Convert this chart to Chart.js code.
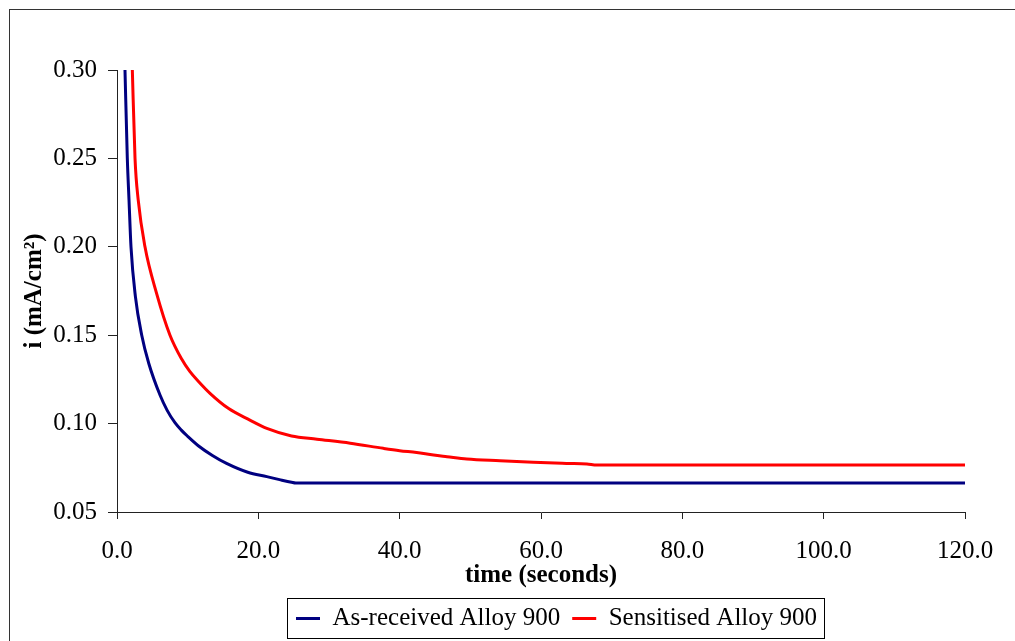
<!DOCTYPE html>
<html>
<head>
<meta charset="utf-8">
<script src="https://cdn.jsdelivr.net/npm/chart.js@4"></script>
<style>
  body { margin: 0; background: #fff; }
</style>
</head>
<body>
<canvas id="chronoAmp" width="1015" height="641"></canvas>
<script>
var asReceivedTime = [0.87, 1.13, 1.46, 1.7, 1.98, 2.6, 3.5, 4.5, 6.1, 7.1, 8.2, 9.1, 10.0, 11.5, 13.5, 15.5, 18.5, 21.2, 23.0, 24.7, 25.3, 120];
var asReceivedCurrent = [0.34, 0.30, 0.25, 0.2265, 0.20, 0.172, 0.150, 0.134, 0.116, 0.1075, 0.1005, 0.0963, 0.0928, 0.0875, 0.082, 0.0775, 0.0725, 0.0700, 0.0683, 0.0668, 0.0664, 0.0664];

var sensitisedTime = [1.95, 2.17, 2.55, 3.0, 3.96, 5.6, 7.5, 9.15, 10.3, 11.5, 13.2, 15.8, 18.8, 21.2, 24.7, 28.3, 33.0, 37.7, 40.0, 42.4, 44.8, 46.7, 49.5, 54.2, 58.9, 63.6, 66.5, 67.9, 120];
var sensitisedCurrent = [0.33, 0.30, 0.25, 0.2265, 0.20, 0.1737, 0.15, 0.1365, 0.1295, 0.124, 0.117, 0.1085, 0.102, 0.0973, 0.093, 0.0912, 0.0889, 0.086, 0.0847, 0.0836, 0.0822, 0.0813, 0.080, 0.079, 0.0781, 0.0775, 0.0772, 0.0766, 0.0766];

var seriesNames = ['As-received Alloy 900', 'Sensitised Alloy 900'];
var xTicks = [0, 20, 40, 60, 80, 100, 120];
var yTicks = [0.05, 0.10, 0.15, 0.20, 0.25, 0.30];

function pairUp(xs, ys) {
  return xs.map(function (x, k) { return { x: x, y: ys[k] }; });
}

var serif = '"Liberation Serif", "Times New Roman", serif';
var legendStart = 296;

// move the legend to where Excel put it and box it in
var legendBox = {
  id: 'legendBox',
  afterLayout: function (chart) {
    var lg = chart.legend;
    if (!lg || !lg.lineWidths) return;
    var pad = lg.options.labels.padding;
    var start = (lg.left + pad + lg.right - lg.lineWidths[0]) / 2;
    var dx = legendStart - start;
    lg.left += dx;
    lg.right += dx;
  },
  afterDraw: function (chart) {
    var ctx = chart.ctx;
    var lg = chart.legend;
    var pad = lg.options.labels.padding;
    var x0 = legendStart - 8.5;
    var x1 = Math.round(legendStart + lg.lineWidths[0] - pad + 7) + 0.5;
    var yc = lg.top + pad + 12.5;
    ctx.save();
    ctx.strokeStyle = '#000';
    ctx.lineWidth = 1;
    ctx.strokeRect(x0, Math.round(yc - 21) + 0.5, x1 - x0, 40);
    // outer frame of the chart object
    ctx.strokeStyle = '#333';
    ctx.strokeRect(9.5, 9.5, 1100, 1100);
    ctx.restore();
  }
};

var ctx = document.getElementById('chronoAmp').getContext('2d');
var myChart = new Chart(ctx, {
  type: 'line',
  data: {
    datasets: [{
      label: seriesNames[0],
      data: pairUp(asReceivedTime, asReceivedCurrent),
      borderColor: '#000080',
      backgroundColor: '#000080',
      borderWidth: 3,
      pointRadius: 0,
      cubicInterpolationMode: 'monotone'
    }, {
      label: seriesNames[1],
      data: pairUp(sensitisedTime, sensitisedCurrent),
      borderColor: '#ff0000',
      backgroundColor: '#ff0000',
      borderWidth: 3,
      pointRadius: 0,
      cubicInterpolationMode: 'monotone'
    }]
  },
  options: {
    responsive: false,
    animation: false,
    layout: { padding: { left: 0, right: 50, top: 70, bottom: 0 } },
    scales: {
      x: {
        type: 'linear',
        min: 0,
        max: 120,
        afterBuildTicks: function (scale) {
          scale.ticks = xTicks.map(function (v) { return { value: v }; });
        },
        afterFit: function (scale) { scale.height = 82; },
        ticks: {
          color: '#000',
          padding: 17,
          maxRotation: 0,
          font: { family: serif, size: 25 },
          callback: function (v) { return Number(v).toFixed(1); }
        },
        grid: { drawOnChartArea: false, tickLength: 7, color: '#222' },
        border: { display: true, color: '#222', width: 1 },
        title: {
          display: true,
          text: 'time (seconds)',
          color: '#000',
          padding: { top: 0, bottom: 3 },
          font: { family: serif, size: 25, weight: 'bold' }
        }
      },
      y: {
        min: 0.05,
        max: 0.30,
        afterBuildTicks: function (scale) {
          scale.ticks = yTicks.map(function (v) { return { value: v }; });
        },
        afterFit: function (scale) { scale.width = 117; },
        ticks: {
          color: '#000',
          padding: 11,
          font: { family: serif, size: 25 },
          callback: function (v) { return Number(v).toFixed(2); }
        },
        grid: { drawOnChartArea: false, tickLength: 9, color: '#222' },
        border: { display: true, color: '#222', width: 1 },
        title: {
          display: true,
          text: 'i (mA/cm²)',
          color: '#000',
          padding: { top: 20, bottom: 0 },
          font: { family: serif, size: 25, weight: 'bold' }
        }
      }
    },
    plugins: {
      legend: {
        position: 'bottom',
        labels: {
          color: '#000',
          boxWidth: 24,
          boxHeight: 3,
          padding: 12,
          font: { family: serif, size: 25 },
          generateLabels: function (chart) {
            var items = Chart.defaults.plugins.legend.labels.generateLabels(chart);
            items.forEach(function (it) {
              it.lineWidth = 0;
              it.fillStyle = it.strokeStyle;
            });
            return items;
          }
        }
      },
      tooltip: { enabled: false }
    }
  },
  plugins: [legendBox]
});
</script>
</body>
</html>
